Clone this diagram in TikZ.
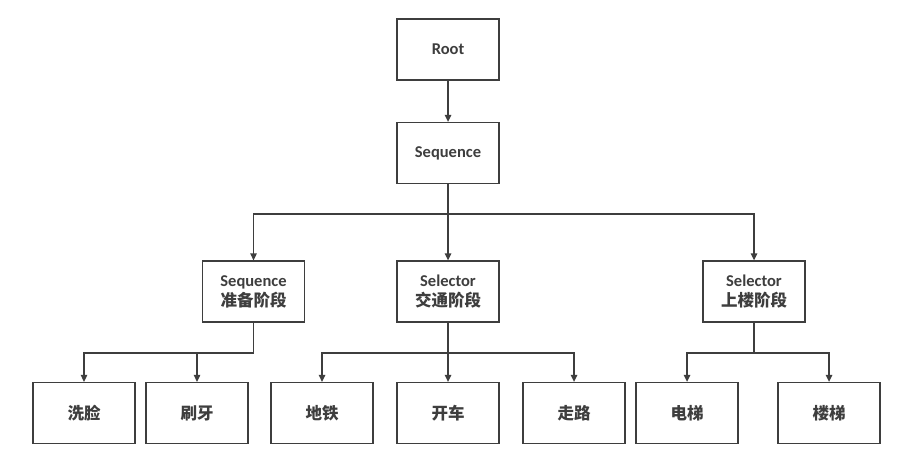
\documentclass[tikz,border=0pt]{standalone}
\usepackage{fontspec}
\setmainfont{Carlito}
\newfontfamily\cjk{Noto Sans CJK SC}
\usetikzlibrary{arrows.meta}
\definecolor{ink}{RGB}{62,62,62}
\tikzset{
  box/.style={draw=ink, line width=1.3pt, minimum width=102pt, minimum height=61pt,
    inner sep=0pt, align=center, text=ink, font=\fontsize{16.5}{20}\selectfont\bfseries},
  link/.style={draw=ink, line width=1.3pt, -{Triangle[length=7pt,width=6.5pt]}}
}
\begin{document}
\begin{tikzpicture}[x=1pt,y=-1pt]
  \fill[white] (0,0) rectangle (909,455);
  \useasboundingbox (0,0) rectangle (909,455);
  % level 0 and 1
  \node[box] (root) at (448,49.5) {Root};
  \node[box] (seq) at (448,153) {Sequence};
  % level 2
  \node[box] (prep) at (253.5,291.5) {Sequence\\{\cjk 准备阶段}};
  \node[box] (trans) at (448,291.5) {Selector\\{\cjk 交通阶段}};
  \node[box] (up) at (754,291.5) {Selector\\{\cjk 上楼阶段}};
  % level 3
  \node[box] (wash) at (84,413) {\cjk 洗脸};
  \node[box] (brush) at (197,413) {\cjk 刷牙};
  \node[box] (metro) at (322,413) {\cjk 地铁};
  \node[box] (drive) at (448,413) {\cjk 开车};
  \node[box] (walk) at (574,413) {\cjk 走路};
  \node[box] (lift) at (687,413) {\cjk 电梯};
  \node[box] (stairs) at (829,413) {\cjk 楼梯};
  % bus heights
  \coordinate (bus1) at (0,214);
  \coordinate (bus2) at (0,353);
  % connectors
  \draw[link] (root) -- (seq);
  \foreach \c in {prep,trans,up}
    \draw[link] (seq.south) -- (seq.south |- bus1) -| (\c.north);
  \foreach \c in {wash,brush}
    \draw[link] (prep.south) -- (prep.south |- bus2) -| (\c.north);
  \foreach \c in {metro,drive,walk}
    \draw[link] (trans.south) -- (trans.south |- bus2) -| (\c.north);
  \foreach \c in {lift,stairs}
    \draw[link] (up.south) -- (up.south |- bus2) -| (\c.north);
\end{tikzpicture}
\end{document}
